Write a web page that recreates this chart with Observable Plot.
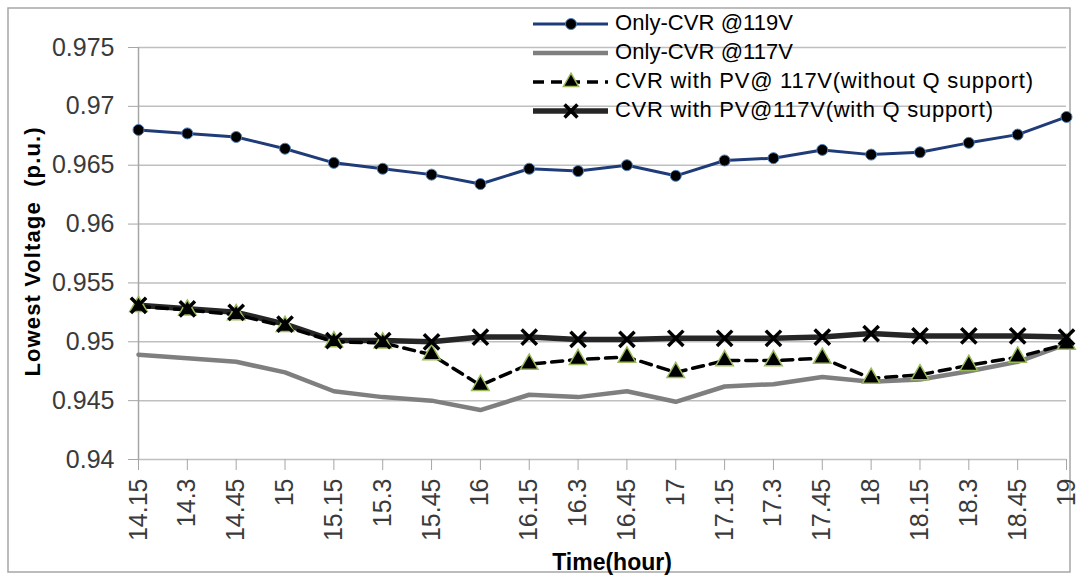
<!DOCTYPE html>
<html>
<head>
<meta charset="utf-8">
<script src="https://cdn.jsdelivr.net/npm/d3@7"></script>
<script src="https://cdn.jsdelivr.net/npm/@observablehq/plot@0.6"></script>
<style>
  html, body { margin: 0; padding: 0; background: #fff; }
  #chart { position: relative; width: 1078px; height: 580px; }
</style>
</head>
<body>
<div id="chart"></div>
<script>
const times = ["14.15","14.3","14.45","15","15.15","15.3","15.45","16","16.15","16.3","16.45","17","17.15","17.3","17.45","18","18.15","18.3","18.45","19"];
const cvr119 = [0.9680,0.9677,0.9674,0.9664,0.9652,0.9647,0.9642,0.9634,0.9647,0.9645,0.9650,0.9641,0.9654,0.9656,0.9663,0.9659,0.9661,0.9669,0.9676,0.9691];
const cvr117 = [0.9489,0.9486,0.9483,0.9474,0.9458,0.9453,0.9450,0.9442,0.9455,0.9453,0.9458,0.9449,0.9462,0.9464,0.9470,0.9466,0.9468,0.9475,0.9483,0.9498];
const pvNoQ  = [0.9530,0.9527,0.9523,0.9513,0.9500,0.9499,0.9489,0.9463,0.9481,0.9485,0.9487,0.9474,0.9484,0.9484,0.9486,0.9469,0.9472,0.9480,0.9487,0.9498];
const pvQ    = [0.9531,0.9528,0.9525,0.9515,0.9501,0.9501,0.9500,0.9504,0.9504,0.9502,0.9502,0.9503,0.9503,0.9503,0.9504,0.9507,0.9505,0.9505,0.9505,0.9504];
const yTicks = [0.94,0.945,0.95,0.955,0.96,0.965,0.97,0.975];
const seriesNames = ["Only-CVR @119V","Only-CVR @117V","CVR with PV@ 117V(without Q support)","CVR with PV@117V(with Q support)"];

const mk = arr => times.map((t, i) => ({t, v: arr[i]}));
const d119 = mk(cvr119), d117 = mk(cvr117), dNoQ = mk(pvNoQ), dQ = mk(pvQ);

const tickFont = "Liberation Sans, Arial, sans-serif";

const svg = Plot.plot({
  width: 1078,
  height: 580,
  marginLeft: 138,
  marginRight: 12,
  marginTop: 47,
  marginBottom: 121,
  style: {fontFamily: tickFont, fontSize: "25px", color: "#3a3a3a", background: "white", overflow: "visible"},
  x: {type: "point", domain: times, padding: 0, round: false, label: null},
  y: {domain: [0.94, 0.975], label: null},
  marks: [
    Plot.ruleY(yTicks, {stroke: "#bfbfbf", strokeWidth: 1.5}),
    Plot.ruleX([times[0]], {stroke: "#a6a6a6", strokeWidth: 1.5}),
    Plot.axisY({ticks: yTicks, tickFormat: d => String(+d.toFixed(3)), tickSize: 10, tickPadding: 14, stroke: "#a6a6a6", label: null}),
    Plot.axisX({tickRotate: -90, tickSize: 11, tickPadding: 8, stroke: "#a6a6a6", label: null}),
    Plot.line(d117, {x: "t", y: "v", stroke: "#7f7f7f", strokeWidth: 4.5}),
    Plot.line(dQ, {x: "t", y: "v", stroke: "#262626", strokeWidth: 5.5}),
    Plot.line(dNoQ, {x: "t", y: "v", stroke: "#000", strokeWidth: 3.5, strokeDasharray: "11,7"}),
    Plot.dot(dNoQ, {x: "t", y: "v", symbol: "triangle", r: 6.5, fill: "#000", stroke: "#9bbb59", strokeWidth: 1.5}),
    Plot.dot(dQ, {x: "t", y: "v", symbol: "times", r: 7, stroke: "#000", strokeWidth: 3.5}),
    Plot.line(d119, {x: "t", y: "v", stroke: "#1f3c78", strokeWidth: 3}),
    Plot.dot(d119, {x: "t", y: "v", r: 5.5, fill: "#000", stroke: "#4f81bd", strokeWidth: 1})
  ]
});

const s = d3.select(svg);
// outer border
s.insert("rect", ":first-child")
  .attr("x", 8).attr("y", 8).attr("width", 1062).attr("height", 564)
  .attr("fill", "none").attr("stroke", "#a6a6a6").attr("stroke-width", 1.5);

// axis titles
s.append("text")
  .attr("transform", "translate(34,252) rotate(-90)")
  .attr("text-anchor", "middle").attr("dominant-baseline", "middle")
  .attr("textLength", 249).attr("lengthAdjust", "spacing")
  .style("font-family", tickFont).style("font-weight", "bold").style("font-size", "22px").attr("fill", "#000")
  .text("Lowest Voltage  (p.u.)");
s.append("text")
  .attr("x", 612).attr("y", 564)
  .attr("text-anchor", "middle").attr("dominant-baseline", "middle")
  .style("font-family", tickFont).style("font-weight", "bold").style("font-size", "23px").attr("fill", "#000")
  .text("Time(hour)");

// legend
const lg = s.append("g");
const rowsY = [24, 53, 82, 111];
const textLens = [178, 178, 418, 378];
const sx1 = 533, sx2 = 608, smid = 571, tx = 615;
const legendFont = "Liberation Sans, Arial, sans-serif";
lg.append("line").attr("x1", sx1).attr("x2", sx2).attr("y1", rowsY[0]).attr("y2", rowsY[0]).attr("stroke", "#1f3c78").attr("stroke-width", 3);
lg.append("circle").attr("cx", smid).attr("cy", rowsY[0]).attr("r", 5.5).attr("fill", "#000").attr("stroke", "#4f81bd");
lg.append("line").attr("x1", sx1).attr("x2", sx2).attr("y1", rowsY[1]).attr("y2", rowsY[1]).attr("stroke", "#7f7f7f").attr("stroke-width", 4.5);
lg.append("line").attr("x1", sx1).attr("x2", sx2).attr("y1", rowsY[2]).attr("y2", rowsY[2]).attr("stroke", "#000").attr("stroke-width", 3.5).attr("stroke-dasharray", "11,7");
lg.append("path").attr("transform", `translate(${smid},${rowsY[2]})`).attr("d", d3.symbol(d3.symbolTriangle, 100)()).attr("fill", "#000").attr("stroke", "#9bbb59").attr("stroke-width", 1.5);
lg.append("line").attr("x1", sx1).attr("x2", sx2).attr("y1", rowsY[3]).attr("y2", rowsY[3]).attr("stroke", "#262626").attr("stroke-width", 5.5);
lg.append("path").attr("transform", `translate(${smid},${rowsY[3]})`).attr("d", d3.symbol(d3.symbolTimes, 110)()).attr("fill", "none").attr("stroke", "#000").attr("stroke-width", 3.5);
seriesNames.forEach((n, i) => {
  lg.append("text").attr("x", tx).attr("y", rowsY[i]).attr("dominant-baseline", "middle").attr("text-anchor", "start")
    .attr("textLength", textLens[i]).attr("lengthAdjust", "spacing")
    .style("font-family", legendFont).style("font-size", "22px").attr("fill", "#000").text(n);
});

document.getElementById("chart").appendChild(svg);
</script>
</body>
</html>
